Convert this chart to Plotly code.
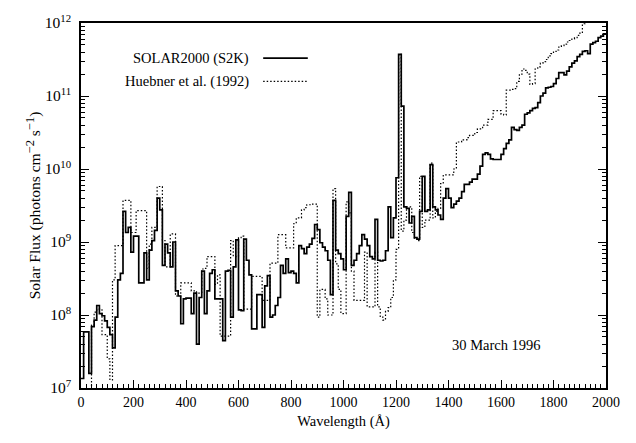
import numpy as np
import plotly.graph_objects as go

# Bin edges (Angstrom), 10 A bins from 0 to 2000
bin_edges = list(range(0, 2001, 10))

# log10 of flux (photons cm^-2 s^-1) per 10 A bin
s2k_log_flux = [
    7.13, 7.77, 7.77, 7.20, 7.84, 7.93, 8.13, 8.02, 7.99, 7.92,   # 0-100
    7.83, 7.73, 7.55, 7.97, 8.48, 8.57, 9.42, 9.13, 9.20, 8.86,   # 100-200
    9.08, 9.08, 8.44, 8.44, 8.85, 8.48, 8.89, 9.02, 9.16, 9.60,   # 200-300
    9.44, 8.68, 8.97, 8.85, 8.66, 9.00, 8.33, 8.26, 7.88, 8.22,   # 300-400
    8.23, 8.23, 8.02, 8.30, 7.60, 8.24, 8.60, 8.02, 8.33, 8.57,   # 400-500
    8.62, 8.22, 8.22, 8.22, 7.65, 8.60, 8.61, 7.97, 8.66, 9.03,   # 500-600
    8.07, 8.06, 9.04, 8.75, 8.55, 7.81, 7.81, 8.28, 8.28, 7.83,   # 600-700
    8.40, 8.54, 7.97, 8.00, 8.13, 8.24, 8.68, 8.57, 8.77, 8.58,   # 700-800
    8.60, 8.57, 8.44, 8.95, 8.91, 8.84, 8.93, 8.97, 9.05, 9.24,   # 800-900
    9.17, 8.99, 8.93, 8.88, 8.75, 8.28, 9.57, 8.89, 8.84, 8.77,   # 900-1000
    8.62, 9.35, 9.68, 8.68, 8.75, 8.84, 8.95, 9.10, 9.04, 8.95,   # 1000-1100
    8.80, 8.77, 9.31, 8.75, 8.74, 8.75, 8.88, 9.48, 9.06, 9.33,   # 1100-1200
    9.88, 11.57, 10.86, 9.48, 9.46, 9.26, 9.35, 9.06, 9.04, 9.42, # 1200-1300
    9.90, 9.42, 9.44, 10.06, 9.48, 9.44, 9.37, 9.31, 9.60, 9.73,  # 1300-1400
    9.60, 9.47, 9.52, 9.56, 9.60, 9.69, 9.79, 9.79, 9.82, 9.86,   # 1400-1500
    9.86, 9.93, 10.04, 10.20, 10.22, 10.20, 10.14, 10.13, 10.13, 10.13,  # 1500-1600
    10.20, 10.28, 10.35, 10.40, 10.57, 10.54, 10.53, 10.57, 10.60, 10.75,  # 1600-1700
    10.77, 10.80, 10.83, 10.84, 10.91, 11.00, 11.04, 11.11, 11.12, 11.13,  # 1700-1800
    11.17, 11.24, 11.32, 11.32, 11.29, 11.34, 11.40, 11.45, 11.48, 11.54,  # 1800-1900
    11.57, 11.61, 11.62, 11.58, 11.71, 11.73, 11.75, 11.80, 11.82, 11.85,  # 1900-2000
]

huebner_log_flux = [
    6.50, 6.50, 6.50, 6.50, 7.86, 8.04, 8.08, 8.08, 7.73, 7.73,   # 0-100
    7.40, 7.11, 8.48, 8.95, 8.95, 8.95, 9.57, 9.57, 9.57, 9.13,   # 100-200
    9.13, 9.43, 9.43, 9.43, 9.43, 8.64, 8.97, 9.20, 9.20, 9.76,   # 200-300
    9.76, 9.02, 8.66, 8.66, 9.11, 9.11, 8.26, 8.26, 8.44, 8.44,   # 300-400
    8.44, 8.44, 8.33, 8.33, 8.30, 8.30, 8.63, 8.64, 8.80, 8.80,   # 400-500
    8.80, 8.42, 8.55, 7.71, 7.71, 7.71, 7.71, 9.02, 8.80, 8.80,   # 500-600
    9.06, 9.08, 8.08, 8.08, 8.08, 8.53, 8.53, 8.53, 8.53, 8.20,   # 600-700
    8.20, 8.20, 8.71, 8.71, 8.71, 9.10, 9.10, 9.10, 8.92, 8.92,   # 700-800
    8.92, 9.25, 9.33, 9.33, 9.44, 9.47, 9.51, 9.51, 9.52, 9.52,   # 800-900
    7.97, 8.35, 8.35, 8.22, 8.00, 8.00, 9.73, 8.70, 8.35, 8.02,   # 900-1000
    8.02, 9.55, 9.40, 8.60, 8.20, 8.20, 8.20, 8.20, 8.86, 8.11,   # 1000-1100
    8.11, 8.11, 8.86, 8.11, 7.97, 7.93, 8.05, 8.10, 8.24, 8.48,   # 1100-1200
    8.90, 11.57, 9.15, 9.30, 9.48, 9.48, 9.13, 9.04, 9.02, 9.90,  # 1200-1300
    9.20, 9.30, 9.30, 10.08, 9.33, 9.42, 9.46, 9.80, 9.92, 9.92,  # 1300-1400
    9.92, 9.92, 10.00, 10.37, 10.37, 10.40, 10.40, 10.43, 10.46, 10.46,  # 1400-1500
    10.50, 10.55, 10.55, 10.60, 10.60, 10.68, 10.68, 10.80, 10.80, 10.80,  # 1500-1600
    10.75, 10.74, 11.08, 11.08, 11.09, 11.10, 11.20, 11.30, 11.37, 11.35,  # 1600-1700
    11.30, 11.16, 11.17, 11.37, 11.40, 11.45, 11.47, 11.50, 11.55, 11.58,  # 1700-1800
    11.61, 11.63, 11.67, 11.69, 11.71, 11.74, 11.76, 11.78, 11.80, 11.83,  # 1800-1900
    11.86, 11.99, 12.10, 12.10, 12.10, 12.10, 12.10, 12.10, 12.10, 12.10,  # 1900-2000
]

x_tick_values = [0, 200, 400, 600, 800, 1000, 1200, 1400, 1600, 1800, 2000]
y_tick_exponents = [7, 8, 9, 10, 11, 12]

s2k_flux = 10 ** np.array(s2k_log_flux + [s2k_log_flux[-1]])
huebner_flux = 10 ** np.array(huebner_log_flux + [huebner_log_flux[-1]])

FONT = "Liberation Serif, Times New Roman, serif"
DOT = "1.5px,2px"

fig = go.Figure()
fig.add_trace(go.Scatter(
    x=bin_edges, y=huebner_flux, mode="lines", line_shape="hv",
    name="Huebner et al. (1992)",
    line=dict(color="black", width=1.2, dash=DOT),
))
fig.add_trace(go.Scatter(
    x=bin_edges, y=s2k_flux, mode="lines", line_shape="hv",
    name="SOLAR2000 (S2K)",
    line=dict(color="black", width=1.7),
))

fig.update_layout(
    width=636, height=443,
    margin=dict(l=81, r=30, t=13, b=55),
    paper_bgcolor="white", plot_bgcolor="white",
    showlegend=False,
    font=dict(family=FONT, size=14, color="black"),
)

fig.update_xaxes(
    range=[0, 2000], tickmode="array", tickvals=x_tick_values,
    ticks="inside", ticklen=8, tickwidth=1, tickcolor="black",
    minor=dict(ticks="inside", ticklen=4, dtick=20, tickcolor="black", showgrid=False),
    showline=True, linecolor="black", linewidth=1.5, mirror=True,
    showgrid=False, zeroline=False,
    title=dict(text="Wavelength (Å)", standoff=7, font=dict(size=14.5)),
    tickfont=dict(size=14),
)
fig.update_yaxes(
    type="log", range=[7, 12],
    tickmode="array", tickvals=[10 ** e for e in y_tick_exponents],
    ticktext=[f"10<sup>{e}</sup>" for e in y_tick_exponents],
    ticks="inside", ticklen=8, tickwidth=1, tickcolor="black",
    minor=dict(ticks="inside", ticklen=4, dtick="D1", tickcolor="black", showgrid=False),
    showline=True, linecolor="black", linewidth=1.5, mirror="ticks",
    showgrid=False, zeroline=False,
    ticklabelstandoff=5,
    title=dict(
        text=("Solar Flux (photons cm<sup><span style='font-size:12.5px'>−2</span></sup> "
              "s<sup><span style='font-size:12.5px'>−1</span></sup>)"),
        standoff=0, font=dict(size=15.5)),
    tickfont=dict(size=15.5),
)

# Legend drawn in the original style: label on the left, line sample on the right
legend_rows = [("SOLAR2000 (S2K)", 0.904, "solid"), ("Huebner et al. (1992)", 0.840, DOT)]
for label, yp, dash in legend_rows:
    fig.add_annotation(x=0.323, y=yp, xref="paper", yref="paper", text=label,
                       showarrow=False, xanchor="right", yanchor="middle",
                       font=dict(family=FONT, size=14.5, color="black"))
    fig.add_shape(type="line", xref="paper", yref="paper", x0=0.347, x1=0.432, y0=yp, y1=yp,
                  line=dict(color="black", width=1.7 if dash == "solid" else 1.2, dash=dash))

fig.add_annotation(x=0.792, y=0.117, xref="paper", yref="paper", text="30 March 1996",
                   showarrow=False, xanchor="center", yanchor="middle",
                   font=dict(family=FONT, size=14.5, color="black"))

fig.write_html("out.html")
